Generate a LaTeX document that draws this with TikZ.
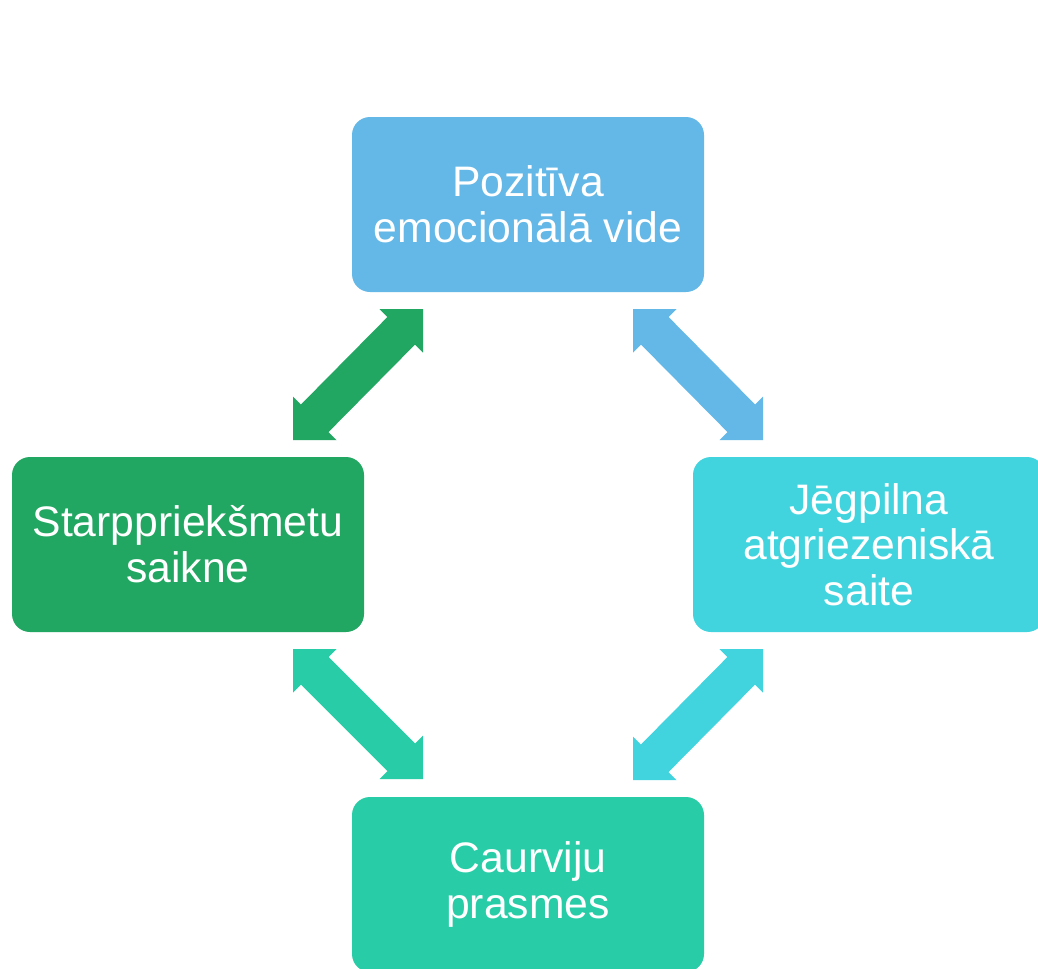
\documentclass[tikz,border=0pt]{standalone}
\usepackage{fontspec}
\setmainfont{Liberation Sans}
\usetikzlibrary{calc}
\definecolor{cblue}{RGB}{99,184,231}
\definecolor{cgreen}{RGB}{34,167,98}
\definecolor{ccyan}{RGB}{66,212,222}
\definecolor{cteal}{RGB}{40,205,167}
% #1 colour, #2 tip A, #3 tip B, #4 sign of x from A to B, #5 sign of y from A to B
\newcommand\blockarrow[5]{%
  \fill[#1] (#2)
    -- ($(#2)+({#4*43.5},0)$)
    -- ($(#2)+({#4*35.54},{#5*7.96})$)
    -- ($(#3)+({-#4*7.96},{-#5*35.54})$)
    -- ($(#3)+(0,{-#5*43.5})$)
    -- (#3)
    -- ($(#3)+({-#4*43.5},0)$)
    -- ($(#3)+({-#4*35.54},{-#5*7.96})$)
    -- ($(#2)+({#4*7.96},{#5*35.54})$)
    -- ($(#2)+(0,{#5*43.5})$)
    -- cycle;}
\begin{document}
\begin{tikzpicture}[x=0.75pt,y=-0.75pt,
  box/.style={rounded corners=13.5pt, minimum width=264pt, minimum height=131.25pt,
    inner sep=0pt, text=white, align=center,
    font=\fontsize{32}{34.3}\selectfont}]
\clip (0,0) rectangle (1038,968);
\fill[white] (0,0) rectangle (1038,968);
\node[box, fill=cblue] (top) at (528,204.5) {Pozitīva\\emocionālā vide};
\node[box, fill=cgreen] (left) at (188,544.5) {Starppriekšmetu\\saikne};
\node[box, fill=ccyan] (right) at (869,544.5) {Jēgpilna\\atgriezeniskā\\saite};
\node[box, fill=cteal] (bottom) at (528,884.5) {Caurviju\\prasmes};
\coordinate (g1) at (423,309);
\coordinate (g2) at (293,440);
\coordinate (b1) at (633,309);
\coordinate (b2) at (763,440);
\coordinate (t1) at (293,649);
\coordinate (t2) at (423,779);
\coordinate (c1) at (763,649);
\coordinate (c2) at (633,780);
\blockarrow{cgreen}{g1}{g2}{-1}{1}
\blockarrow{cblue}{b1}{b2}{1}{1}
\blockarrow{cteal}{t1}{t2}{1}{1}
\blockarrow{ccyan}{c1}{c2}{-1}{1}
\end{tikzpicture}
\end{document}
